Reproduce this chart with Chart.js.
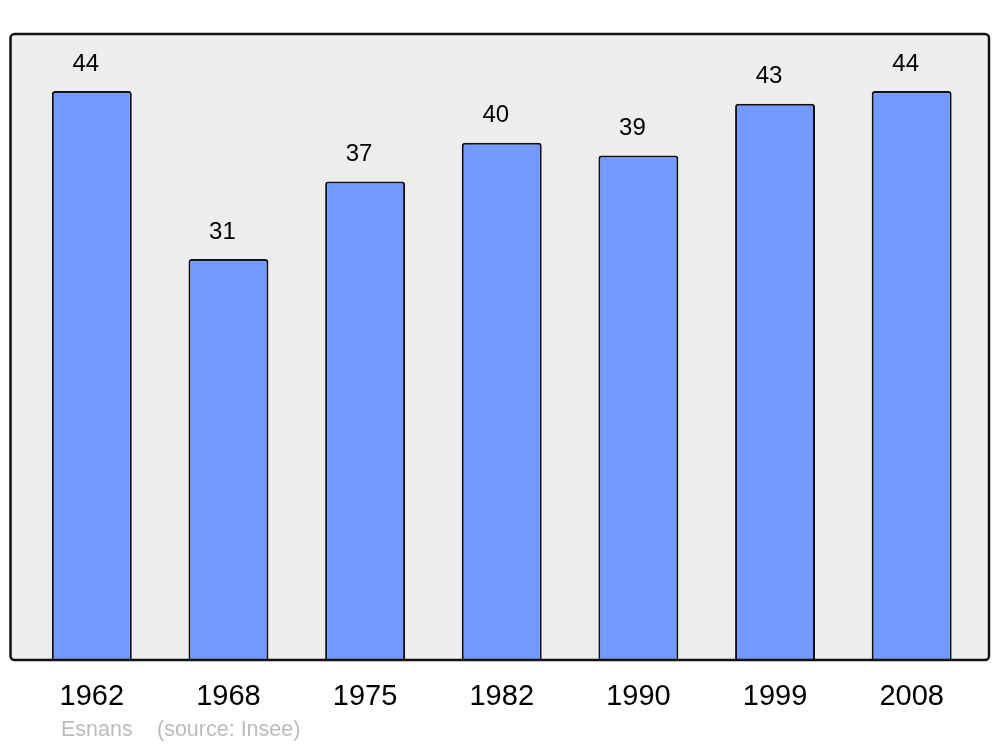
<!DOCTYPE html>
<html>
<head>
<meta charset="utf-8">
<script src="https://cdn.jsdelivr.net/npm/chart.js@4/dist/chart.umd.min.js"></script>
<style>
    html, body { margin: 0; padding: 0; background: #ffffff; }
    #wrap { width: 1000px; height: 747px; }
</style>
</head>
<body>
<div id="wrap"><canvas id="popChart" width="1000" height="747"></canvas></div>
<script>
// Data
const years = ['1962', '1968', '1975', '1982', '1990', '1999', '2008'];
const population = [44, 31, 37, 40, 39, 43, 44];
const yMax = 48.4;

// Grey frame behind the bars
const framePlugin = {
    id: 'frame',
    beforeDraw(chart) {
        const { ctx, chartArea } = chart;
        const x0 = chartArea.left - 13;
        const x1 = chartArea.right + 9;
        ctx.save();
        ctx.beginPath();
        ctx.roundRect(x0, chartArea.top, x1 - x0, chartArea.bottom - chartArea.top, 4);
        ctx.fillStyle = '#ededed';
        ctx.fill();
        ctx.restore();
    },
    afterDatasetsDraw(chart) {
        const { ctx, chartArea } = chart;
        const x0 = chartArea.left - 13;
        const x1 = chartArea.right + 9;
        ctx.save();
        ctx.beginPath();
        ctx.roundRect(x0, chartArea.top, x1 - x0, chartArea.bottom - chartArea.top, 4);
        ctx.lineWidth = 2.5;
        ctx.strokeStyle = '#111111';
        ctx.stroke();

        // value labels above bars
        const meta = chart.getDatasetMeta(0);
        ctx.font = '24px "Liberation Sans", Arial, sans-serif';
        ctx.fillStyle = '#000000';
        ctx.textAlign = 'center';
        ctx.textBaseline = 'middle';
        meta.data.forEach((bar, i) => {
            ctx.fillText(String(population[i]), bar.x - 6, bar.y - 27);
        });

        // footer
        ctx.font = '21.5px "Liberation Sans", Arial, sans-serif';
        ctx.fillStyle = '#bbbbbb';
        ctx.textAlign = 'left';
        ctx.fillText('Esnans', 61, 730);
        ctx.fillText('(source: Insee)', 157, 730);
        ctx.restore();
    }
};

new Chart(document.getElementById('popChart').getContext('2d'), {
    type: 'bar',
    data: {
        labels: years,
        datasets: [{
            data: population,
            backgroundColor: '#7499ff',
            borderColor: '#111111',
            borderWidth: 2,
            borderRadius: { topLeft: 3, topRight: 3 },
            borderSkipped: 'bottom',
            barPercentage: 0.585,
            categoryPercentage: 1
        }]
    },
    options: {
        responsive: false,
        animation: false,
        layout: {
            padding: { left: 23.5, right: 20, top: 34, bottom: 0 }
        },
        plugins: {
            legend: { display: false },
            tooltip: { enabled: false }
        },
        scales: {
            x: {
                grid: { display: false },
                border: { display: false },
                afterFit(scale) { scale.height = 87; },
                ticks: {
                    color: '#000000',
                    padding: 12,
                    font: { family: '"Liberation Sans", Arial, sans-serif', size: 29 }
                }
            },
            y: {
                display: false,
                min: 0,
                max: yMax
            }
        }
    },
    plugins: [framePlugin]
});
</script>
</body>
</html>
